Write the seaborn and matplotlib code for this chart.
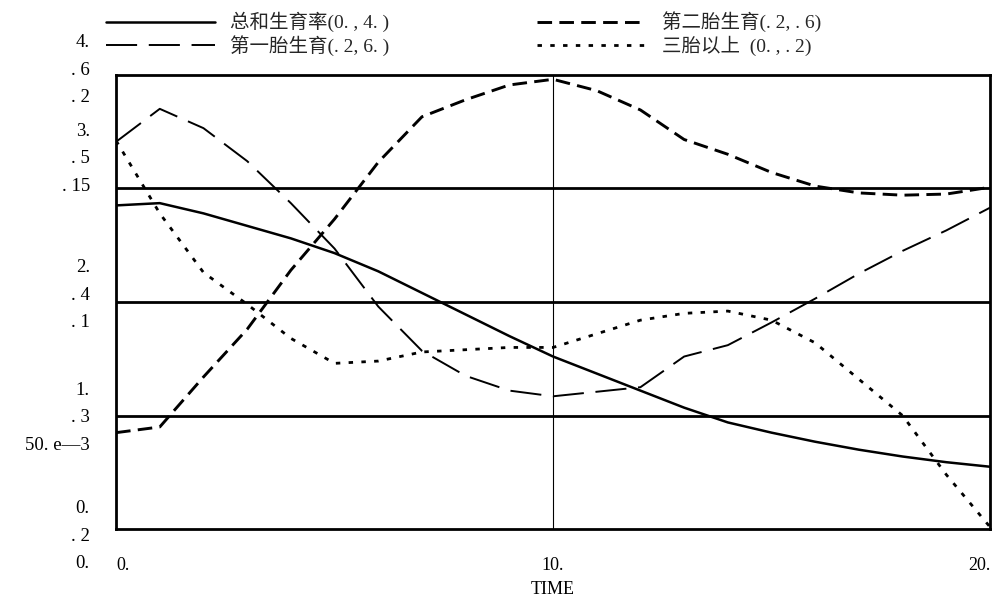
import numpy as np
import matplotlib
matplotlib.use("Agg")
import matplotlib.pyplot as plt
import seaborn as sns

# time axis (years)
time = list(range(0, 21))

# 总和生育率, scale 0..4
tfr = [2.85, 2.87, 2.78, 2.67, 2.56, 2.43, 2.27, 2.08, 1.89, 1.70, 1.52,
       1.37, 1.22, 1.07, 0.94, 0.85, 0.77, 0.70, 0.64, 0.59, 0.55]
# 第一胎生育, scale .2..6
first = [0.541, 0.570, 0.553, 0.524, 0.487, 0.447, 0.396, 0.357, 0.335, 0.322, 0.317,
         0.321, 0.325, 0.352, 0.362, 0.382, 0.403, 0.425, 0.445, 0.463, 0.483]
# 第二胎生育, scale .2...6
second = [0.285, 0.290, 0.334, 0.376, 0.428, 0.473, 0.523, 0.563, 0.578, 0.591, 0.596,
          0.586, 0.569, 0.543, 0.530, 0.514, 0.502, 0.496, 0.494, 0.495, 0.501]
# 三胎以上, scale 0...2
third = [0.171, 0.139, 0.113, 0.099, 0.084, 0.073, 0.074, 0.078, 0.079, 0.080, 0.080,
         0.086, 0.092, 0.095, 0.096, 0.092, 0.082, 0.066, 0.050, 0.024, 0.001]

labels = ["总和生育率(0. , 4. )", "第一胎生育(. 2, 6. )", "第二胎生育(. 2, . 6)", "三胎以上  (0. , . 2)"]
scales = [(0, 4), (0.2, 0.6), (0.2, 0.6), (0, 0.2)]

# left axis labels, one row per grid level (bottom to top)
tick_tfr = ["0.", "1.", "2.", "3.", "4."]
tick_mid = [". 2", ". 3", ". 4", ". 5", ". 6"]
tick_low = ["0.", "50. e—3", ". 1", ". 15", ". 2"]
xtick_labels = ["0.", "10.", "20."]

sns.set_theme(style="white")
plt.rcParams['font.family'] = ['Liberation Serif', 'Noto Sans CJK SC', 'DejaVu Sans']

fig = plt.figure(figsize=(9.92, 5.98), dpi=100)
ax = fig.add_axes([0.117, 0.115, 0.881, 0.76])

series = [tfr, first, second, third]
styles = [
    dict(lw=1.8, dashes=None),
    dict(lw=1.4, dashes=(16, 6)),
    dict(lw=2.1, dashes=(5, 2.5)),
    dict(lw=2.0, dashes=(1.6, 3)),
]

axes = [ax]
for i in range(1, 4):
    tw = ax.twinx()
    tw.set_position(ax.get_position())
    axes.append(tw)

handles = []
for a, vals, (lo, hi), st, lab in zip(axes, series, scales, styles, labels):
    sns.lineplot(x=time, y=vals, ax=a, color="black", linewidth=st["lw"], label=lab, legend=False)
    line = a.get_lines()[-1]
    if st["dashes"] is not None:
        line.set_dashes(st["dashes"])
    a.set_ylim(lo, hi)
    a.set_xlim(0, 20)
    a.set_yticks([])
    a.set_ylabel("")
    for s in a.spines.values():
        s.set_visible(False)
    handles.append(line)

# grid
for lvl in [1, 2, 3]:
    ax.axhline(lvl, color="black", lw=2.0, zorder=1)
ax.axvline(10, color="black", lw=0.8, zorder=1)

for s in ax.spines.values():
    s.set_visible(True)
    s.set_color("black")
    s.set_linewidth(2.0)

ax.set_xticks([0, 10, 20])
xt = ax.set_xticklabels(xtick_labels, fontsize=13)
xt[0].set_ha("left")
xt[-1].set_ha("right")
ax.tick_params(axis="x", length=0, pad=20, colors="black")
ax.set_xlabel("TIME", fontsize=13, labelpad=5, color="black")

# stacked scale labels on the left
level_y = [-0.015, 0.245, 0.515, 0.815, 1.01]
offsets = [0.06, 0.0, -0.06]
for k, yc in enumerate(level_y):
    for txt, off in zip([tick_tfr[k], tick_mid[k], tick_low[k]], offsets):
        ax.text(-0.03, yc + off, txt, transform=ax.transAxes, ha="right", va="center",
                fontsize=13.5, color="black", clip_on=False)

fig.legend(handles=handles, labels=labels, loc="upper left", bbox_to_anchor=(0.095, 1.0),
           ncol=2, frameon=False, fontsize=14, handlelength=5.6, handletextpad=0.8,
           columnspacing=7.6, labelspacing=0.15, borderaxespad=0.2)

fig.savefig("out.png", dpi=100, facecolor="white")
